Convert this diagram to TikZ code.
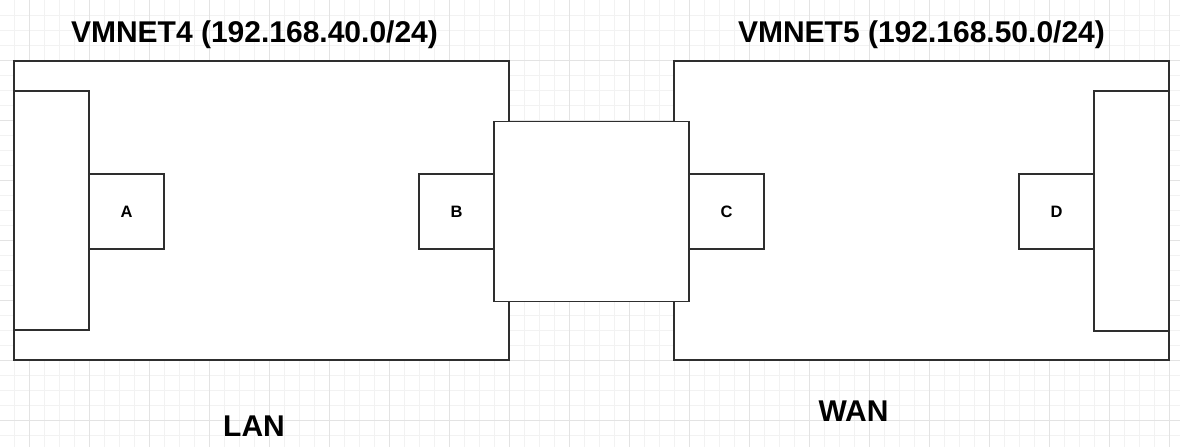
\documentclass[tikz,border=0pt]{standalone}
\usepackage{fontspec}
\setmainfont{Liberation Sans}
\begin{document}
\begin{tikzpicture}[x=1pt,y=-1pt,
  box/.style={draw=black!82,line width=1.5pt,fill=white,inner sep=0pt,minimum width=#1},
  box/.default=75pt,
  small/.style={box,minimum width=75pt,minimum height=75pt,font=\fontsize{16.5}{18}\selectfont\bfseries},
  title/.style={font=\fontsize{30}{34}\selectfont\bfseries,inner sep=0pt,anchor=base}]
\useasboundingbox (0,0) rectangle (1180,447);
\fill[white] (0,0) rectangle (1180,447);
% grid
\foreach \x in {14,29,...,1180} \draw[black!5,line width=0.8pt] (\x,0) -- (\x,447);
\foreach \y in {15,30,...,447} \draw[black!5,line width=0.8pt] (0,\y) -- (1180,\y);
\foreach \x in {29,89,...,1180} \draw[black!11,line width=0.8pt] (\x,0) -- (\x,447);
\foreach \y in {60,120,...,447} \draw[black!11,line width=0.8pt] (0,\y) -- (1180,\y);
% big boxes
\node[box=495pt,minimum height=299pt] (lan) at (261.5,210.5) {};
\node[box=495pt,minimum height=299pt] (wan) at (921.5,210.5) {};
% host rectangles
\node[box=75pt,minimum height=239pt] (hostA) at (51.5,210.5) {};
\node[box=75pt,minimum height=240pt] (hostD) at (1131.5,211) {};
\node[small] (A) at (126.5,211.5) {A};
\node[small] (D) at (1056.5,211.5) {D};
% router
\node[box=195pt,minimum height=180pt] (router) at (591.5,211.5) {};
\node[small] (B) at (456.5,211.5) {B};
\node[small] (C) at (726.5,211.5) {C};
% titles
\node[title] (t4) at (254.5,42.3) {VMNET4 (192.168.40.0/24)};
\node[title] (t5) at (921.5,42.3) {VMNET5 (192.168.50.0/24)};
\node[title] (lanl) at (254,436) {LAN};
\node[title] (wanl) at (853.5,421.7) {WAN};
\end{tikzpicture}
\end{document}
